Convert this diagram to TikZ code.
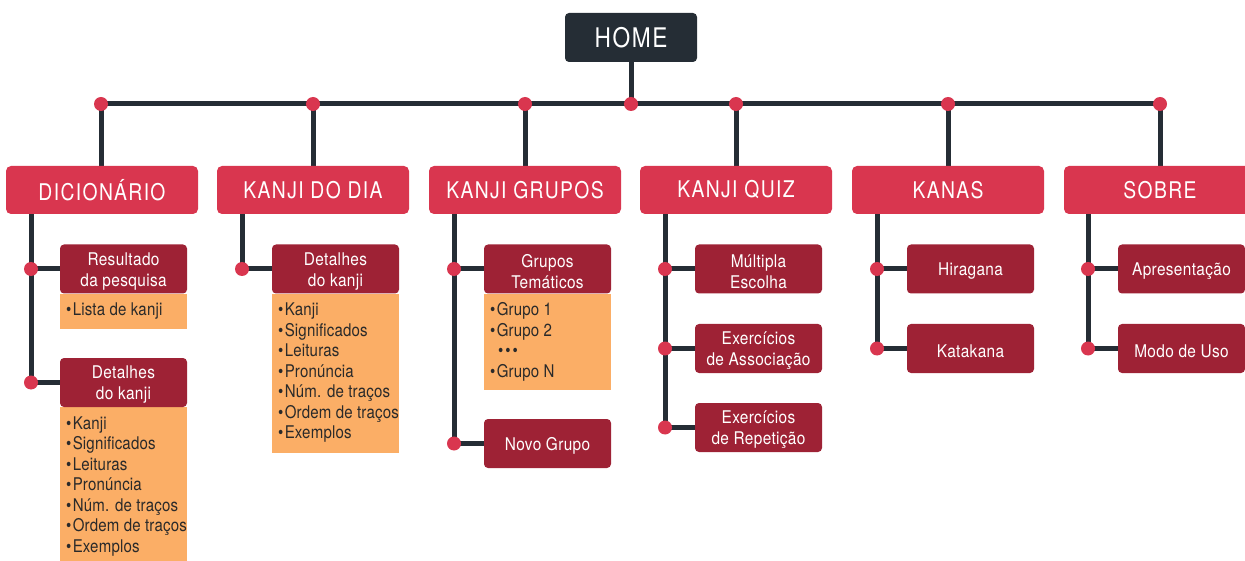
\documentclass[tikz,border=0pt]{standalone}
\usepackage{fontspec}
\usetikzlibrary{backgrounds}
\setmainfont{TeX Gyre Heros}[FakeStretch=0.88, LetterSpace=2]
\newfontfamily\capsfont{TeX Gyre Heros}[FakeStretch=0.84, LetterSpace=6]
\newfontfamily\listfont{TeX Gyre Heros}[FakeStretch=0.86, LetterSpace=1]
\definecolor{ink}{HTML}{252D35}
\definecolor{topred}{HTML}{D9364F}
\definecolor{subred}{HTML}{9E2235}
\definecolor{dotred}{HTML}{D9364F}
\definecolor{note}{HTML}{FBAE66}
\definecolor{notetext}{HTML}{2A2A2A}
\tikzset{
  homebox/.style={fill=ink, rounded corners=4pt, minimum width=132pt, minimum height=49pt,
    text=white, inner sep=0pt, font=\capsfont\fontsize{27}{30}\selectfont},
  topbox/.style={fill=topred, rounded corners=5pt, minimum width=192pt, minimum height=48pt,
    text=white, inner sep=0pt, font=\capsfont\fontsize{23}{26}\selectfont},
  subbox/.style={fill=subred, rounded corners=4pt, minimum width=127pt, minimum height=49pt,
    inner sep=0pt},
  subtext/.style={text=white, inner sep=0pt, align=center, font=\fontsize{17.5}{21}\selectfont},
  notebg/.style={fill=note, anchor=north west, minimum width=127pt, inner sep=0pt},
  notetext/.style={anchor=north west, inner sep=0pt, align=left, text=notetext,
    font=\listfont\fontsize{17.5}{20.5}\selectfont},
  bus/.style={draw=ink, line width=5pt},
  dot/.style={circle, fill=dotred, minimum size=14pt, inner sep=0pt},
}
\newcommand{\itm}[1]{\textbullet\hspace{1.5pt}#1}
% \subnode{name}{position}{label}: a dark red box with its label set slightly low
\newcommand{\subnode}[3]{%
  \node[subbox] (#1) at (#2) {};
  \node[subtext] (#1-label) at ([yshift=-2.5pt]#1.center) {#3};}
\begin{document}
\begin{tikzpicture}[x=1pt, y=-1pt]
\useasboundingbox (0,0) rectangle (1245,561);

% top level
\node[homebox] (home) at (631,37.5) {HOME};
\node[topbox] (dic)  at (102,190) {DICIONÁRIO};
\node[topbox] (dia)  at (313,190) {KANJI DO DIA};
\node[topbox] (grp)  at (525,190) {KANJI GRUPOS};
\node[topbox] (quiz) at (736,190) {KANJI QUIZ};
\node[topbox] (kana) at (948,190) {KANAS};
\node[topbox] (sob)  at (1160,190) {SOBRE};

% junction points on the main bus
\coordinate (b1) at (101,104);
\coordinate (b2) at (313,104);
\coordinate (b3) at (525,104);
\coordinate (b0) at (631,104);
\coordinate (b4) at (736,104);
\coordinate (b5) at (948,104);
\coordinate (b6) at (1160,104);

% second level boxes
\subnode{res}{123.5,269}{Resultado\\da pesquisa}
\subnode{det1}{123.5,382.5}{Detalhes\\do kanji}
\subnode{det2}{335.5,269}{Detalhes\\do kanji}
\subnode{tem}{547.5,269}{Grupos\\Temáticos}
\subnode{novo}{547.5,443.5}{Novo Grupo}
\subnode{mult}{758.5,269}{Múltipla\\Escolha}
\subnode{assoc}{758.5,348.5}{Exercícios\\de Associação}
\subnode{rep}{758.5,427.5}{Exercícios\\de Repetição}
\subnode{hira}{970.5,269}{Hiragana}
\subnode{kata}{970.5,348.5}{Katakana}
\subnode{apr}{1181.5,269}{Apresentação}
\subnode{modo}{1181.5,348.5}{Modo de Uso}

% branch junctions
\coordinate (j11) at (31,269);  \coordinate (j12) at (31,382.5);
\coordinate (j21) at (242,269);
\coordinate (j31) at (454,269); \coordinate (j32) at (454,443.5);
\coordinate (j41) at (665,269); \coordinate (j42) at (665,348.5); \coordinate (j43) at (665,427.5);
\coordinate (j51) at (877,269); \coordinate (j52) at (877,348.5);
\coordinate (j61) at (1088,269); \coordinate (j62) at (1088,348.5);

\begin{scope}[on background layer]
% connectors
\draw[bus] (b1) -- (b6);
\draw[bus] (home.south) -- (b0);
\draw[bus] (b1) -- (b1 |- dic.north);
\draw[bus] (b2) -- (dia.north);
\draw[bus] (b3) -- (grp.north);
\draw[bus] (b4) -- (quiz.north);
\draw[bus] (b5) -- (kana.north);
\draw[bus] (b6) -- (sob.north);
\draw[bus] (dic.south -| j11) -- (j12);
\draw[bus] (dia.south -| j21) -- (j21);
\draw[bus] (grp.south -| j31) -- (j32);
\draw[bus] (quiz.south -| j41) -- (j43);
\draw[bus] (kana.south -| j51) -- (j52);
\draw[bus] (sob.south -| j61) -- (j62);
\draw[bus] (j11) -- (res.west);
\draw[bus] (j12) -- (det1.west);
\draw[bus] (j21) -- (det2.west);
\draw[bus] (j31) -- (tem.west);
\draw[bus] (j32) -- (novo.west);
\draw[bus] (j41) -- (mult.west);
\draw[bus] (j42) -- (assoc.west);
\draw[bus] (j43) -- (rep.west);
\draw[bus] (j51) -- (hira.west);
\draw[bus] (j52) -- (kata.west);
\draw[bus] (j61) -- (apr.west);
\draw[bus] (j62) -- (modo.west);
% detail list backgrounds, under their headers
\node[notebg, minimum height=35pt]  (l1) at (res.south west) {};
\node[notebg, minimum height=154pt] (l2) at (det1.south west) {};
\node[notebg, minimum height=159pt] (l3) at (det2.south west) {};
\node[notebg, minimum height=96pt]  (l4) at (tem.south west) {};
\end{scope}

% detail list texts
\node[notetext] (t1) at ([xshift=6pt, yshift=-9pt]l1.north west) {\itm{Lista de kanji}};
\node[notetext] (t2) at ([xshift=6pt, yshift=-9pt]l2.north west)
  {\itm{Kanji}\\\itm{Significados}\\\itm{Leituras}\\\itm{Pronúncia}\\\itm{Núm. de traços}\\\itm{Ordem de traços}\\\itm{Exemplos}};
\node[notetext] (t3) at ([xshift=6pt, yshift=-9pt]l3.north west)
  {\itm{Kanji}\\\itm{Significados}\\\itm{Leituras}\\\itm{Pronúncia}\\\itm{Núm. de traços}\\\itm{Ordem de traços}\\\itm{Exemplos}};
\node[notetext] (t4) at ([xshift=6pt, yshift=-9pt]l4.north west)
  {\itm{Grupo 1}\\\itm{Grupo 2}\\\hspace{8pt}\textbullet\hspace{2pt}\textbullet\hspace{2pt}\textbullet\\\itm{Grupo N}};

% junction dots
\foreach \p in {b1,b2,b3,b0,b4,b5,b6,j11,j12,j21,j31,j32,j41,j42,j43,j51,j52,j61,j62}
  \node[dot] (d-\p) at (\p) {};
\end{tikzpicture}
\end{document}
